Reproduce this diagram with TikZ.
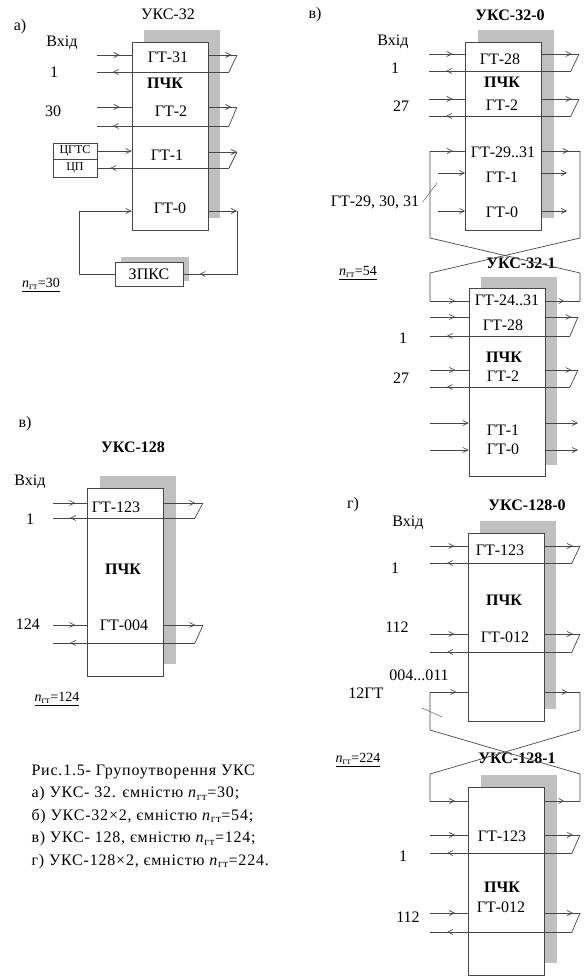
\documentclass[tikz,border=0pt]{standalone}
\usepackage{fontspec}
\setmainfont{Liberation Serif}
\newfontfamily\capfont[LetterSpace=5]{Liberation Serif}
\usetikzlibrary{arrows.meta,decorations.markings,shadows}
\definecolor{lngray}{RGB}{70,70,70}
\definecolor{shgray}{RGB}{192,192,192}

\begin{document}
\begin{tikzpicture}[x=1pt,y=-1pt,font=\fontsize{16}{18}\selectfont,
    ln/.style={draw,color=lngray,line width=.7pt},
    arr/.style={ln,-{Straight Barb[length=5pt,width=5pt]}},
    midarr/.style={ln,postaction={decorate},decoration={markings,mark=at position #1 with {\arrow{Straight Barb[length=5pt,width=5pt]}}}},
    blok/.style={draw=lngray,line width=.7pt,fill=white,inner sep=0pt,minimum width=76pt,minimum height=188pt,
      general shadow={fill=shgray,shadow xshift=12pt,shadow yshift=12pt}},
    sm/.style={font=\fontsize{12}{14}\selectfont},
    nl/.style={font=\fontsize{14}{16}\selectfont}]
    \useasboundingbox (0,0) rectangle (588,979);
    % boxes
    \node[blok] (ukA) at (170,136) {};
    \node[blok] (ukB0) at (503.5,136) {};
    \node[blok] (ukB1) at (507,382.5) {};
    \node[blok] (ukV) at (125.5,582) {};
    \node[blok] (ukG0) at (506,627) {};
    \node[blok] (ukG1) at (506.5,881) {};
    \node[draw=lngray,fill=white,minimum width=68pt,minimum height=24pt,inner sep=0pt,
      general shadow={fill=shgray,shadow xshift=6pt,shadow yshift=5pt}] (zp) at (149,274) {ЗПКС};
    \node[draw=lngray,sm,inner sep=0pt,minimum width=44pt,minimum height=16pt] (cg) at (75,151) {ЦГТС};
    \node[draw=lngray,sm,inner sep=0pt,minimum width=44pt,minimum height=18pt] (cp) at (75,168) {ЦП};

    % a) UKS-32
    \node (la) at (20,27) {а)};
    \node (tA) at (168,14) {УКС-32};
    \node (inA) at (62,43) {Вхід};
    \node (a31t) at (168,57) {ГТ-31};
    \node (a1n) at (54,72) {1};
    \node (pA) at (165,83) {\textbf{ПЧК}};
    \node (a30n) at (53,111) {30};
    \node (a2t) at (171,111) {ГТ-2};
    \node (a1t) at (167,155) {ГТ-1};
    \node (a0t) at (170,208) {ГТ-0};
    \node[nl] (nA) at (41,285) {\underline{\textit{n}\textsubscript{гт}=30}};

    % b) UKS-32x2
    \node (lb) at (315,15) {в)};
    \node (tB0) at (510,15) {\textbf{УКС-32-0}};
    \node (inB) at (393,42) {Вхід};
    \node (b28t) at (500,59) {ГТ-28};
    \node (b1n) at (395,68) {1};
    \node (pB0) at (502,82) {\textbf{ПЧК}};
    \node (b27n) at (401,106) {27};
    \node (b2t) at (502,105) {ГТ-2};
    \node (b29t) at (503,152) {ГТ-29..31};
    \node (b1t) at (502,177) {ГТ-1};
    \node (b0t) at (502,212) {ГТ-0};
    \node (l29) at (375,202) {ГТ-29, 30, 31};
    \node[nl] (nB) at (358,273) {\underline{\textit{n}\textsubscript{гт}=54}};
    \node (tB1) at (521,263) {\textbf{УКС-32-1}};
    \node (c24t) at (507,300) {ГТ-24..31};
    \node (c28t) at (503,325) {ГТ-28};
    \node (c1n) at (403,338) {1};
    \node (pB1) at (504,357) {\textbf{ПЧК}};
    \node (c27n) at (401,378) {27};
    \node (c2t) at (503,376) {ГТ-2};
    \node (c1t) at (503,430) {ГТ-1};
    \node (c0t) at (503,449) {ГТ-0};

    % v) UKS-128
    \node (lv) at (25,424) {в)};
    \node (tV) at (133,447) {\textbf{УКС-128}};
    \node (inV) at (30,482) {Вхід};
    \node (v123t) at (116,507) {ГТ-123};
    \node (v1n) at (30,519) {1};
    \node (pV) at (123,569) {\textbf{ПЧК}};
    \node (v124n) at (28,624) {124};
    \node (v4t) at (124,625) {ГТ-004};
    \node[nl] (nV) at (57,699) {\underline{\textit{n}\textsubscript{гт}=124}};

    % g) UKS-128x2
    \node (lg) at (353,505) {г)};
    \node (tG0) at (527,505) {\textbf{УКС-128-0}};
    \node (inG) at (408,523) {Вхід};
    \node (g123t) at (500,550) {ГТ-123};
    \node (g1n) at (395,568) {1};
    \node (pG0) at (504,600) {\textbf{ПЧК}};
    \node (g112n) at (397,627) {112};
    \node (g12t) at (505,637) {ГТ-012};
    \node (g4n) at (419,675) {004...011};
    \node (g12n) at (366,693) {12ГТ};
    \node (tG1) at (517,758) {\textbf{УКС-128-1}};
    \node[nl] (nG) at (358,760) {\underline{\textit{n}\textsubscript{гт}=224}};
    \node (h123t) at (502,836) {ГТ-123};
    \node (h1n) at (403,856) {1};
    \node (pG1) at (502,887) {\textbf{ПЧК}};
    \node (h12t) at (501,907) {ГТ-012};
    \node (h112n) at (408,917) {112};

    \node[anchor=north west,align=left,font=\capfont\fontsize{16}{22.5}\selectfont] (cap) at (28,761)
      {Рис.1.5- Групоутворення УКС\\
       а) УКС- 32. ємністю \textit{n}\textsubscript{гт}=30;\\
       б) УКС-32×2, ємністю \textit{n}\textsubscript{гт}=54;\\
       в) УКС- 128, ємністю \textit{n}\textsubscript{гт}=124;\\
       г) УКС-128×2, ємністю \textit{n}\textsubscript{гт}=224.};

    % in / out / return channels
    \foreach \bx/\k/\yi/\yr/\xl/\xr in {ukA/a31/55/72/97/237, ukA/a2/107/126/97/237,
        ukB0/b28/54/71/429/579, ukB0/b2/99/116/429/579, ukB1/c28/317/336/430/578, ukB1/c2/370/387/430/578,
        ukV/v123/503/518/53/203, ukV/v4/625/643/53/203, ukG0/g123/546/563/430/580, ukG0/g12/634/652/430/580,
        ukG1/h123/835/853/430/580, ukG1/h12/913/932/430/580}{
      \coordinate (\k-i) at (\xl,\yi);
      \coordinate (\k-o) at (\xr,\yi);
      \coordinate (\k-s) at (\xr-8,\yr);
      \coordinate (\k-r) at (\xl,\yr);
      \draw[midarr=.65] (\k-i) -- (\k-i -| \bx.west);
      \draw[midarr=.8] (\k-o -| \bx.east) -- (\k-o);
      \draw[ln] (\k-o) -- (\k-s);
      \draw[midarr=.88] (\k-s) -- (\k-r);
    }

    % a) GT-1, GT-0 and ZPKS
    \coordinate (a1o) at (237,152);
    \coordinate (a1s) at (229,168);
    \coordinate (a0l) at (79,211);
    \coordinate (a0r) at (237,211);
    \draw[arr] (cg.east) -- (cg.east -| ukA.west);
    \draw[arr] (a1o -| ukA.east) -- (a1o);
    \draw[ln] (a1o) -- (a1s);
    \draw[midarr=.9] (a1s) -- (a1s -| cp.east);
    \draw[arr] (a0l) -- (a0l -| ukA.west);
    \draw[ln] (a0l) |- (zp.west);
    \draw[arr] (a0r -| ukA.east) -- (a0r);
    \draw[midarr=.86] (a0r) |- (zp.east);

    % b) cross link between UKS-32-0 and UKS-32-1
    \coordinate (b29l) at (430,151);
    \coordinate (b29r) at (580,151);
    \coordinate (x1) at (430,238);
    \coordinate (x2) at (580,238);
    \coordinate (x3) at (430,273);
    \coordinate (x4) at (580,273);
    \coordinate (c24l) at (430,301);
    \coordinate (c24r) at (580,301);
    \draw[midarr=.65] (b29l) -- (b29l -| ukB0.west);
    \draw[midarr=.7] (b29r -| ukB0.east) -- (b29r);
    \draw[ln] (b29l) -- (x1) -- (x4) -- (c24r);
    \draw[ln] (b29r) -- (x2) -- (x3) -- (c24l);
    \draw[midarr=.65] (c24l) -- (c24l -| ukB1.west);
    \draw[midarr=.55] (c24r -| ukB1.east) -- (c24r);
    \foreach \k/\bx/\y/\xl/\xr in {b1/ukB0/173/438/567, b0/ukB0/211/438/567, c1/ukB1/423/430/578, c0/ukB1/450/430/578}{
      \coordinate (\k-l) at (\xl,\y);
      \coordinate (\k-r) at (\xr,\y);
      \draw[arr] (\k-l) -- (\k-l -| \bx.west);
      \draw[arr] (\k-r -| \bx.east) -- (\k-r);
    }
    \coordinate (l29e) at (437,183);
    \draw[ln,line width=.4pt] (l29.east) -- (l29e);

    % g) cross link between UKS-128-0 and UKS-128-1
    \coordinate (g4l) at (430,692);
    \coordinate (g4r) at (580,692);
    \coordinate (y1) at (430,730);
    \coordinate (y2) at (580,730);
    \coordinate (y3) at (430,774);
    \coordinate (y4) at (580,774);
    \coordinate (h4l) at (430,801);
    \coordinate (h4r) at (580,801);
    \draw[midarr=.7] (g4l) -- (g4l -| ukG0.west);
    \draw[midarr=.65] (g4r -| ukG0.east) -- (g4r);
    \draw[ln] (g4l) -- (y1) -- (y4) -- (h4r);
    \draw[ln] (g4r) -- (y2) -- (y3) -- (h4l);
    \draw[midarr=.65] (h4l) -- (h4l -| ukG1.west);
    \draw[midarr=.55] (h4r -| ukG1.east) -- (h4r);
    \coordinate (s1) at (422,708);
    \coordinate (s2) at (442,717);
    \draw[ln,line width=.4pt] (s1) -- (s2);
\end{tikzpicture}
\end{document}
